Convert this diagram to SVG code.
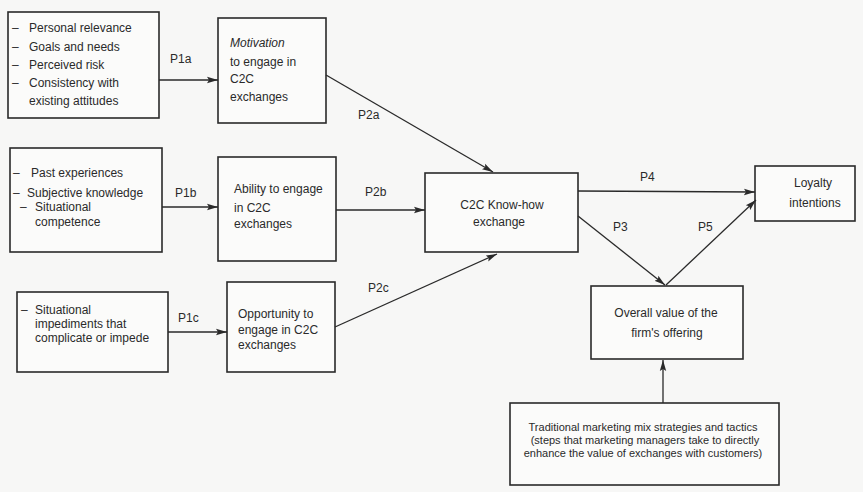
<svg xmlns="http://www.w3.org/2000/svg" width="863" height="492" viewBox="0 0 863 492">
<defs>
<marker id="ah" markerUnits="userSpaceOnUse" markerWidth="12" markerHeight="8" refX="11" refY="4" orient="auto">
<path d="M0,0.8 L11,4 L0,7.2 L2,4 Z" fill="#2a2a2a"/>
</marker>
<style>
.box{fill:#fbfbfa;stroke:#2a2a2a;stroke-width:1.6}
.t{font-family:"Liberation Sans",Arial,sans-serif;font-size:12px;fill:#2a2a2a}
.s{font-size:11px}
.c{text-anchor:middle}
.i{font-style:italic}
.lbl{font-family:"Liberation Sans",Arial,sans-serif;font-size:12px;fill:#2a2a2a}
.ln{stroke:#2a2a2a;stroke-width:1.3;fill:none;marker-end:url(#ah)}
</style>
</defs>
<rect width="863" height="492" fill="#f7f7f6"/>

<g id="antecedents-motivation">
<rect class="box" x="8" y="12" width="151" height="106"/>
<text class="t" x="12" y="32">–</text><text class="t" x="29" y="32">Personal relevance</text>
<text class="t" x="12" y="51">–</text><text class="t" x="29" y="51">Goals and needs</text>
<text class="t" x="12" y="69">–</text><text class="t" x="29" y="69">Perceived risk</text>
<text class="t" x="12" y="87">–</text><text class="t" x="29" y="87">Consistency with</text>
<text class="t" x="29" y="105">existing attitudes</text>
</g>

<g id="motivation">
<rect class="box" x="218" y="18" width="108" height="105"/>
<text class="t i" x="230" y="47">Motivation</text>
<text class="t" x="230" y="66">to engage in</text>
<text class="t" x="230" y="83">C2C</text>
<text class="t" x="230" y="101">exchanges</text>
</g>

<g id="antecedents-ability">
<rect class="box" x="10" y="148" width="152" height="104"/>
<text class="t" x="13" y="177">–</text><text class="t" x="31" y="177">Past experiences</text>
<text class="t" x="13" y="197">–</text><text class="t" x="27" y="197">Subjective knowledge</text>
<text class="t" x="20" y="211">–</text><text class="t" x="35" y="211">Situational</text>
<text class="t" x="35" y="226">competence</text>
</g>

<g id="ability">
<rect class="box" x="218" y="157" width="118" height="104"/>
<text class="t" x="234" y="193">Ability to engage</text>
<text class="t" x="234" y="212">in C2C</text>
<text class="t" x="234" y="228">exchanges</text>
</g>

<g id="antecedents-opportunity">
<rect class="box" x="17" y="292" width="151" height="80"/>
<text class="t" x="21" y="314">–</text><text class="t" x="35" y="314">Situational</text>
<text class="t" x="35" y="328">impediments that</text>
<text class="t" x="35" y="342">complicate or impede</text>
</g>

<g id="opportunity">
<rect class="box" x="227" y="282" width="108" height="90"/>
<text class="t" x="238" y="318">Opportunity to</text>
<text class="t" x="238" y="334">engage in C2C</text>
<text class="t" x="238" y="349">exchanges</text>
</g>

<g id="c2c-exchange">
<rect class="box" x="425" y="173" width="153" height="79"/>
<text class="t c" x="502" y="209">C2C Know-how</text>
<text class="t c" x="499" y="226">exchange</text>
</g>

<g id="loyalty">
<rect class="box" x="755" y="166" width="100" height="55"/>
<text class="t c" x="813" y="187">Loyalty</text>
<text class="t c" x="815" y="207">intentions</text>
</g>

<g id="overall-value">
<rect class="box" x="591" y="286" width="152" height="73"/>
<text class="t c" x="666" y="317">Overall value of the</text>
<text class="t c" x="667" y="337">firm's offering</text>
</g>

<g id="traditional-marketing">
<rect class="box" x="510" y="403" width="269" height="82"/>
<text class="t s c" x="643" y="431">Traditional marketing mix strategies and tactics</text>
<text class="t s c" x="645" y="444">(steps that marketing managers take to directly</text>
<text class="t s c" x="643" y="457">enhance the value of exchanges with customers)</text>
</g>

<g id="connectors">
<line class="ln" x1="159" y1="80" x2="218" y2="80"/>
<line class="ln" x1="162" y1="207" x2="218" y2="207"/>
<line class="ln" x1="168" y1="332" x2="227" y2="332"/>
<line class="ln" x1="326" y1="75" x2="493" y2="172"/>
<line class="ln" x1="336" y1="210" x2="425" y2="210"/>
<line class="ln" x1="335" y1="327" x2="497" y2="254"/>
<line class="ln" x1="578" y1="191" x2="755" y2="192"/>
<line class="ln" x1="578" y1="216" x2="665" y2="285"/>
<line class="ln" x1="666" y1="285" x2="756" y2="200"/>
<line class="ln" x1="663" y1="403" x2="663" y2="360"/>
<text class="lbl" x="170" y="63">P1a</text>
<text class="lbl" x="175" y="197">P1b</text>
<text class="lbl" x="178" y="322">P1c</text>
<text class="lbl" x="358" y="119">P2a</text>
<text class="lbl" x="365" y="196">P2b</text>
<text class="lbl" x="368" y="292">P2c</text>
<text class="lbl" x="640" y="181">P4</text>
<text class="lbl" x="613" y="231">P3</text>
<text class="lbl" x="698" y="231">P5</text>
</g>
</svg>
